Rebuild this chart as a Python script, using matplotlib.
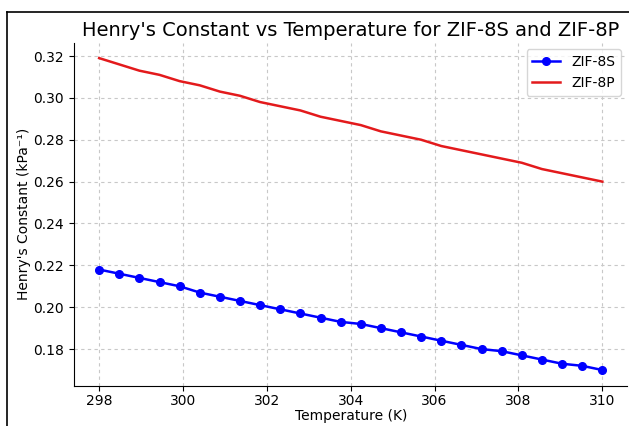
import matplotlib
matplotlib.use("Agg")
import matplotlib.pyplot as plt
from matplotlib.lines import Line2D

# temperatures (K)
temps = [298.00, 298.48, 298.96, 299.44, 299.92, 300.40, 300.88, 301.36, 301.84,
         302.32, 302.80, 303.28, 303.76, 304.24, 304.72, 305.20, 305.68, 306.16,
         306.64, 307.12, 307.60, 308.08, 308.56, 309.04, 309.52, 310.00]

# Henry's constant (kPa^-1)
zif8s = [0.218, 0.216, 0.214, 0.212, 0.210, 0.207, 0.205, 0.203, 0.201, 0.199,
         0.197, 0.195, 0.193, 0.192, 0.190, 0.188, 0.186, 0.184, 0.182, 0.180,
         0.179, 0.177, 0.175, 0.173, 0.172, 0.170]
zif8p = [0.319, 0.316, 0.313, 0.311, 0.308, 0.306, 0.303, 0.301, 0.298, 0.296,
         0.294, 0.291, 0.289, 0.287, 0.284, 0.282, 0.280, 0.277, 0.275, 0.273,
         0.271, 0.269, 0.266, 0.264, 0.262, 0.260]

fig = plt.figure(figsize=(6.29, 4.26), dpi=100)
ax = fig.add_axes([0.1176, 0.0948, 0.88, 0.8054])

ax.plot(temps, zif8s, "o-", color="blue", label="ZIF-8S", markersize=5.5, linewidth=1.8)
ax.plot(temps, zif8p, "-", color="#e31a1c", label="ZIF-8P", linewidth=1.8)

ax.set_title("Henry's Constant vs Temperature for ZIF-8S and ZIF-8P", fontsize=14, pad=5)
ax.set_xlabel("Temperature (K)", labelpad=1)
ax.set_ylabel("Henry's Constant (kPa\u207b\u00b9)", labelpad=2)
ax.set_xticks([298, 300, 302, 304, 306, 308, 310])
ax.tick_params(axis="x", pad=2.5)
ax.grid(True, linestyle=(0, (3, 3)), color="#c8c8c8", linewidth=0.8)
ax.spines["top"].set_visible(False)
ax.spines["right"].set_visible(False)
ax.legend(loc="upper right")

# border of the screenshot
fig.add_artist(Line2D([7 / 629, 7 / 629], [0, 1 - 12 / 426], color="black", linewidth=1.2))
fig.add_artist(Line2D([7 / 629, 1], [1 - 12 / 426, 1 - 12 / 426], color="black", linewidth=1.2))

fig.savefig("out.png", dpi=100)
